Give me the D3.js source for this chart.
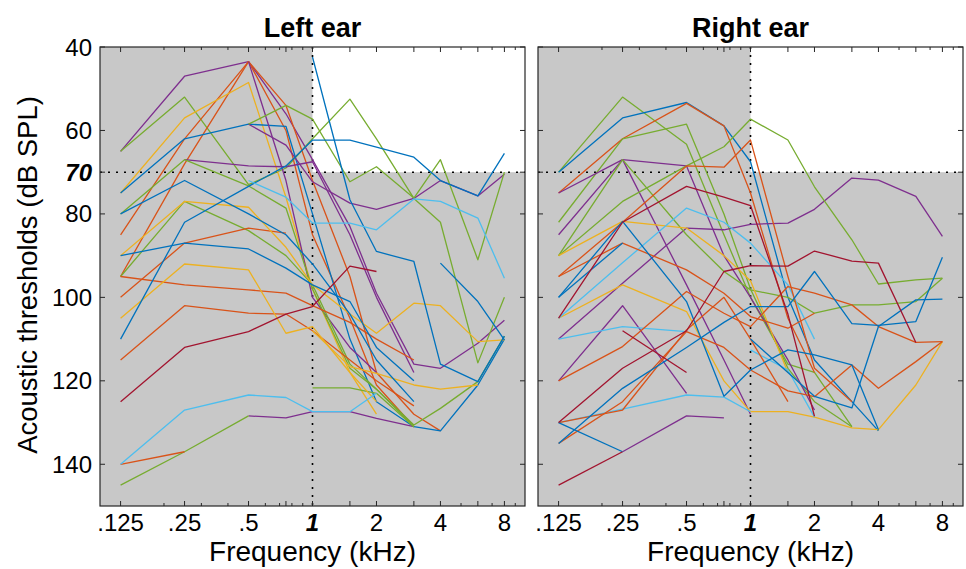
<!DOCTYPE html>
<html>
<head>
<meta charset="utf-8">
<script src="https://cdn.jsdelivr.net/npm/d3@7"></script>
<style>
  body { margin: 0; background: #fff; }
  text { font-family: "Liberation Sans", Arial, Helvetica, sans-serif; fill: #000; }
</style>
</head>
<body>
<svg id="chart" width="966" height="569"></svg>
<script>
// test frequencies (kHz) every curve is sampled at
const freqs = [0.125, 0.25, 0.5, 0.75, 1, 1.5, 2, 3, 4, 6, 8];

const xTickVals = [0.125, 0.25, 0.5, 1, 2, 4, 8];
const xTickLabels = [".125", ".25", ".5", "1", "2", "4", "8"];
const xMajorTicks = [0.125, 0.25, 0.5, 0.75, 1, 1.5, 2, 3, 4, 6, 8];
const xMinorTicks = [0.2, 0.3, 0.4, 0.6, 0.7, 0.8, 0.9, 5, 7, 9];
const yTickVals = [40, 60, 70, 80, 100, 120, 140];

const colors = {
  blue: "#0072BD", orange: "#D95319", yellow: "#EDB120", purple: "#7E2F8E",
  green: "#77AC30", lightblue: "#4DBEEE", darkred: "#A2142F"
};

// thresholds in dB SPL, null = not measured
const leftEar = [
  ["purple",    [65, 47, 43.5, 56, 67, 83, 99, 116, 117, 111, 105.5]],
  ["green",     [65, 52, 73, 69, 62, 52.5, 62, 76.3, 82, 115.7, 100]],
  ["orange",    [85, 62, 43.5, 54, 72, 95, 118, 128, 132, null, null]],
  ["orange",    [95, 68, 43.5, 60, 85, 105, 121, 131, null, null, null]],
  ["yellow",    [75, 57, 48.5, 76, 98, 118, 128, null, null, null, null]],
  ["blue",      [75, 62, 58.5, 59, 80, 110, 125, 131, 132, 121, 110]],
  ["purple",    [null, 67, 68.5, 68.7, 67.5, 85, 100, 118, null, null, null]],
  ["purple",    [null, null, 58.5, 63.5, 72.3, 77.4, 78.9, 76.3, 72, 75.7, 70.5]],
  ["purple",    [null, null, 43.5, 72, 100, 112, 118, null, null, null, null]],
  ["purple",    [null, null, 128.4, 128.9, 127.4, 127.4, 129, 131, null, null, null]],
  ["green",     [null, null, 58.5, 54, 57.3, 72.3, 68.7, 76.2, 67, 91, 70]],
  ["green",     [80, 67, 73.3, 78.6, 98, 117, 122, 131, null, null, null]],
  ["green",     [95, 77, 84, 90, 97, 116, 122, 130.6, 126.6, 120.2, 109.3]],
  ["green",     [145, 137, 128.4, null, null, null, null, null, null, null, null]],
  ["green",     [null, null, null, null, 121.7, 121.7, 123, 131, null, null, null]],
  ["orange",    [100, 87, 83.4, 84.6, null, null, null, null, null, null, null]],
  ["orange",    [95, 97, 98.2, 99, 102, 106, 110, 115, null, null, null]],
  ["orange",    [115, 102, 103.8, 104, 108, 115, 120, 126, null, null, null]],
  ["orange",    [140, 137, null, null, null, null, null, null, null, null, null]],
  ["yellow",    [90, 77, 78.4, 88, 97, 104, 108.6, 101.4, 102, 110.6, 110.2]],
  ["yellow",    [105, 92, 93.4, 108.6, 107, 118, 125, null, null, null, null]],
  ["yellow",    [null, null, null, null, 108, 116.6, 118.2, 121, 122, 121, null]],
  ["blue",      [null, null, null, null, 42.4, 76.6, 89, 91.4, 116, 120.2, 109.3]],
  ["blue",      [110, 82, 73.4, 68.5, 62.3, 62.3, 64, 66.4, 72, 75.7, 65.5]],
  ["blue",      [80, 72, 80, 85, 92, 104, 115, 125, null, null, null]],
  ["blue",      [90, 87, 88.4, 93, 97, 101, 112, 120, null, null, null]],
  ["blue",      [null, null, null, null, null, null, null, null, 91.8, 101, 110.2]],
  ["lightblue", [140, 127, 123.4, 124, 127.4, 127.4, 123, null, null, null, null]],
  ["lightblue", [null, null, 72, 76, 82.2, 82.2, 83.8, 76.4, 77, 81, 95.4]],
  ["darkred",   [125, 112, 108.2, 104, 102.2, 92.5, 93.8, null, null, null, null]]
];

const rightEar = [
  ["green",     [70, 52, 63.3, 85, 100, 116, 118, 131, null, null, null]],
  ["blue",      [70, 57, 53.3, 58.9, 67.5, 100, 115, 125, 132, null, null]],
  ["orange",    [75, 62, 53.5, 58.9, 75, 105, 118, null, null, null, null]],
  ["green",     [82, 62, 58.5, 80, 98, 117, 125, 131, null, null, null]],
  ["purple",    [110, 96.6, 83.4, 83.8, 82.5, 82.2, 78.9, 71.4, 71.9, 75.8, 85.4]],
  ["purple",    [75, 67, 68.5, 90, 100, 115, 127, null, null, null, null]],
  ["purple",    [85, 67, 97, 115, 128, null, null, null, null, null, null]],
  ["purple",    [120, 102, 123, null, null, null, null, null, null, null, null]],
  ["purple",    [null, 137, 128.4, 128.9, null, null, null, null, null, null, null]],
  ["green",     [90, 77, 68.5, 63.9, 57.3, 62.3, 73.5, 86.2, 96.8, 95.8, 95.4]],
  ["green",     [90, 67, 85, 93.8, 98.2, 100, 103.8, 101.8, 101.8, 101, 95.4]],
  ["yellow",    [90, 81.8, 83.4, 90, 96, 118, null, null, null, null, null]],
  ["yellow",    [105, 97, 103.4, 120, 127.4, 127.4, 128.7, 131.3, 131.7, 121, 110.6]],
  ["lightblue", [105, 91.7, 78.6, 82, 87, 97, 110, null, null, null, null]],
  ["lightblue", [110, 107, 108.2, null, null, null, null, null, null, null, null]],
  ["lightblue", [130, 126.8, 123.4, 123.9, 127.4, null, null, null, null, null, null]],
  ["lightblue", [null, null, null, null, 112.6, 117.4, 128.7, null, null, null, null]],
  ["orange",    [95, 82, 68.5, 68.8, 62.3, 95, 117, 125, null, null, null]],
  ["orange",    [95, 87, 93.4, 99, 104.6, 107.4, 103.8, null, null, null, null]],
  ["orange",    [120, 111.8, 98.6, 103.8, 107, 97.4, 99, 101.8, 107, 110.8, 110.6]],
  ["orange",    [130, 127, 107.8, 100, 110, 125, null, null, null, null, null]],
  ["orange",    [135, 125, 108.2, 112, 117.4, 122.4, 123.8, 116.2, 121.8, 115.4, 110.6]],
  ["blue",      [100, 81.8, 101, 123.7, 117.4, 112.6, 113.8, 116.2, 131.7, null, null]],
  ["blue",      [100, 87, null, null, null, null, null, null, null, null, null]],
  ["blue",      [135, 121.8, 112, 106, 102.2, 102.2, 93.8, 106.3, 106.7, 105.8, 90.4]],
  ["blue",      [130, 137, null, null, null, null, null, null, null, null, null]],
  ["blue",      [null, null, null, null, 110, 118, 123.7, 126.5, 107, 100.6, 100.4]],
  ["darkred",   [130, 117, 108, 93.8, 92.4, 92.5, 88.9, 91.3, 91.8, 110.8, null]],
  ["darkred",   [105, 82, 73.4, 76, 78, 104, 128.5, null, null, null, null]],
  ["darkred",   [145, 137, null, null, null, null, null, null, null, null, null]],
  ["darkred",   [null, 108, 118, null, null, null, null, null, null, null, null]]
];

const svg = d3.select("#chart");
const plotTop = 47, plotBottom = 506, panelW = 425;
const panels = [
  { title: "Left ear",  x0: 100, data: leftEar,  yLabels: true },
  { title: "Right ear", x0: 538, data: rightEar, yLabels: false }
];

const y = d3.scaleLinear().domain([40, 150]).range([plotTop, plotBottom]);

panels.forEach(p => {
  const x = d3.scaleLog().domain([0.1, 10]).range([p.x0, p.x0 + panelW]);
  const g = svg.append("g");

  // grey background, white "normal" quadrant (>= 1 kHz, < 70 dB)
  g.append("rect").attr("x", p.x0).attr("y", plotTop)
    .attr("width", panelW).attr("height", plotBottom - plotTop).attr("fill", "#c8c8c8");
  g.append("rect").attr("x", x(1)).attr("y", plotTop)
    .attr("width", p.x0 + panelW - x(1)).attr("height", y(70) - plotTop).attr("fill", "#fff");

  // dotted reference lines
  g.append("line").attr("x1", x(1)).attr("x2", x(1)).attr("y1", plotTop).attr("y2", plotBottom)
    .attr("stroke", "#000").attr("stroke-width", 1.6).attr("stroke-dasharray", "2,6");
  g.append("line").attr("x1", p.x0).attr("x2", p.x0 + panelW).attr("y1", y(70)).attr("y2", y(70))
    .attr("stroke", "#000").attr("stroke-width", 1.6).attr("stroke-dasharray", "2,6");

  // threshold curves
  const line = d3.line()
    .defined(d => d[1] != null)
    .x(d => x(d[0]))
    .y(d => y(d[1]));
  g.selectAll("path.curve")
    .data(p.data)
    .join("path")
    .attr("class", "curve")
    .attr("fill", "none")
    .attr("stroke", d => colors[d[0]])
    .attr("stroke-width", 1.3)
    .attr("stroke-linejoin", "round")
    .attr("d", d => line(freqs.map((f, i) => [f, d[1][i]])));

  // frame
  g.append("rect").attr("x", p.x0).attr("y", plotTop)
    .attr("width", panelW).attr("height", plotBottom - plotTop)
    .attr("fill", "none").attr("stroke", "#262626").attr("stroke-width", 1.2);

  // ticks, pointing inwards on all four sides
  const tk = g.append("g").attr("stroke", "#262626").attr("stroke-width", 1);
  const addX = (vals, len) => vals.forEach(v => {
    tk.append("line").attr("x1", x(v)).attr("x2", x(v)).attr("y1", plotBottom).attr("y2", plotBottom - len);
    tk.append("line").attr("x1", x(v)).attr("x2", x(v)).attr("y1", plotTop).attr("y2", plotTop + len);
  });
  addX(xMajorTicks, 5);
  addX(xMinorTicks, 3);
  yTickVals.forEach(v => {
    tk.append("line").attr("x1", p.x0).attr("x2", p.x0 + 5).attr("y1", y(v)).attr("y2", y(v));
    tk.append("line").attr("x1", p.x0 + panelW).attr("x2", p.x0 + panelW - 5).attr("y1", y(v)).attr("y2", y(v));
  });

  // x tick labels
  g.selectAll("text.xt")
    .data(xTickVals)
    .join("text")
    .attr("class", "xt")
    .attr("x", d => x(d))
    .attr("y", 531)
    .attr("text-anchor", "middle")
    .attr("font-size", 24)
    .attr("font-weight", d => d === 1 ? "bold" : null)
    .attr("font-style", d => d === 1 ? "italic" : null)
    .text((d, i) => xTickLabels[i]);

  if (p.yLabels) {
    g.selectAll("text.yt")
      .data(yTickVals)
      .join("text")
      .attr("class", "yt")
      .attr("x", p.x0 - 8)
      .attr("y", d => y(d) + 8.5)
      .attr("text-anchor", "end")
      .attr("font-size", 24)
      .attr("font-weight", d => d === 70 ? "bold" : null)
      .attr("font-style", d => d === 70 ? "italic" : null)
      .text(d => d);
  }

  g.append("text").attr("x", p.x0 + panelW / 2).attr("y", 37)
    .attr("text-anchor", "middle").attr("font-size", 27).attr("font-weight", "bold")
    .text(p.title);
  g.append("text").attr("x", p.x0 + panelW / 2).attr("y", 561)
    .attr("text-anchor", "middle").attr("font-size", 28)
    .text("Frequency (kHz)");
});

svg.append("text")
  .attr("transform", "translate(37,275) rotate(-90)")
  .attr("text-anchor", "middle").attr("font-size", 27.5)
  .text("Acoustic thresholds (dB SPL)");
</script>
</body>
</html>
